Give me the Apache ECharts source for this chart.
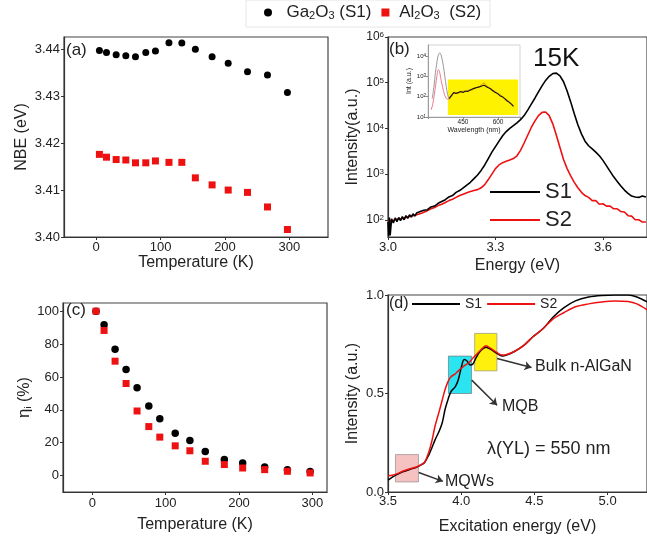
<!DOCTYPE html>
<html>
<head>
<meta charset="utf-8">
<script src="https://cdn.jsdelivr.net/npm/echarts@6/dist/echarts.min.js"></script>
<style>
html, body { margin: 0; padding: 0; background: #fff; }
#chart { width: 647px; height: 546px; }
</style>
</head>
<body>
<div id="chart"></div>
<script>
// (a) NBE peak energy vs temperature, (c) internal efficiency vs temperature
var temps = [5, 16, 31, 46, 61, 77, 92, 113, 133, 154, 180, 205, 235, 266, 297];
var nbeS1 = [3.4397, 3.4393, 3.4388, 3.4386, 3.4384, 3.4393, 3.4396, 3.4414, 3.4413, 3.4400, 3.4384, 3.4370, 3.4352, 3.4345, 3.4308];
var nbeS2 = [3.4176, 3.4170, 3.4165, 3.4164, 3.4158, 3.4158, 3.4162, 3.4159, 3.4159, 3.4126, 3.4111, 3.4100, 3.4095, 3.4064, 3.4016];
var etaS1 = [100, 91.7, 76.8, 64.5, 53.4, 42.3, 34.5, 25.8, 21.4, 14.7, 9.7, 7.7, 5.2, 3.6, 2.4];
var etaS2 = [100, 88.3, 69.6, 56, 39.3, 29.8, 23.4, 18.1, 15.1, 8.7, 6.7, 4.6, 3.6, 2.6, 1.6];

// (b) PL spectra at 15K, read as decades on the log axis
var bEnergy = [3.000, 3.002, 3.004, 3.006, 3.010, 3.015, 3.020, 3.025, 3.030, 3.035, 3.040, 3.045, 3.050, 3.055, 3.060, 3.065, 3.070, 3.075, 3.080, 3.085, 3.090, 3.095, 3.100,
  3.11, 3.12, 3.13, 3.14, 3.15, 3.16, 3.17, 3.18, 3.19, 3.20, 3.21, 3.22, 3.23, 3.24, 3.25, 3.26, 3.27, 3.28, 3.29, 3.30, 3.31, 3.32, 3.33, 3.34, 3.35, 3.36, 3.37, 3.38, 3.39,
  3.40, 3.41, 3.42, 3.43, 3.44, 3.45, 3.46, 3.47, 3.48, 3.49, 3.50, 3.51, 3.52, 3.53, 3.54, 3.55, 3.56, 3.57, 3.58, 3.59, 3.60, 3.61, 3.62, 3.63, 3.64, 3.65, 3.66, 3.67,
  3.68, 3.69, 3.70, 3.71, 3.72];
var bS1Decade = [1.95, 1.65, 2.05, 1.66, 2.02, 1.93, 2.04, 1.96, 2.05, 1.98, 2.07, 2.00, 2.09, 2.03, 2.11, 2.06, 2.13, 2.08, 2.15, 2.11, 2.18, 2.14, 2.21,
  2.22, 2.28, 2.30, 2.36, 2.40, 2.44, 2.50, 2.53, 2.60, 2.64, 2.70, 2.76, 2.82, 2.90, 2.98, 3.08, 3.20, 3.34, 3.48, 3.60, 3.72, 3.84, 3.93, 4.00, 4.06, 4.12, 4.19, 4.28, 4.40,
  4.53, 4.66, 4.80, 4.93, 5.05, 5.14, 5.20, 5.21, 5.15, 5.02, 4.82, 4.58, 4.32, 4.08, 3.88, 3.72, 3.62, 3.55, 3.48, 3.40, 3.30, 3.18, 3.06, 2.94, 2.84, 2.74, 2.65, 2.58,
  2.52, 2.50, 2.49, 2.52, 2.50];
var bS2Decade = [1.97, 1.97, 1.98, 1.98, 1.99, 1.99, 2.00, 2.01, 2.02, 2.02, 2.03, 2.04, 2.05, 2.06, 2.07, 2.08, 2.09, 2.10, 2.11, 2.12, 2.14, 2.15, 2.17,
  2.20, 2.24, 2.27, 2.31, 2.34, 2.38, 2.42, 2.45, 2.49, 2.53, 2.56, 2.59, 2.62, 2.64, 2.66, 2.70, 2.77, 2.88, 3.00, 3.12, 3.20, 3.25, 3.28, 3.31, 3.34, 3.40, 3.52, 3.68, 3.85,
  4.02, 4.16, 4.28, 4.35, 4.36, 4.28, 4.10, 3.85, 3.58, 3.32, 3.12, 2.96, 2.82, 2.70, 2.60, 2.53, 2.49, 2.42, 2.42, 2.34, 2.35, 2.30, 2.30, 2.24, 2.24, 2.18, 2.17, 2.09,
  2.08, 2.00, 2.00, 1.95, 1.95];

// (b) inset: wavelength spectra
var insUvWlS1 = [318, 325, 332, 337, 342, 347, 351, 356, 361, 366, 372, 378, 384, 390];
var insUvS1 = [1.9, 2.45, 3.2, 3.6, 3.95, 4.12, 4.15, 4.05, 3.8, 3.5, 3.0, 2.5, 2.1, 1.9];
var insUvWlS2 = [313, 320, 327, 333, 338, 344, 349, 354, 360, 366, 372, 378, 384, 390];
var insUvS2 = [1.35, 1.6, 2.1, 2.6, 3.0, 3.33, 3.25, 2.95, 2.6, 2.3, 2.05, 1.92, 1.88, 1.9];
var insYlWl = [390, 400, 410, 420, 430, 440, 450, 460, 470, 480, 490, 500, 510, 520, 530, 540, 548, 556, 566, 576, 587, 598, 608, 618, 628, 638, 648, 658, 666];
var insYlS1 = [1.9, 2.05, 2.2, 2.15, 2.2, 2.25, 2.2, 2.28, 2.25, 2.32, 2.38, 2.42, 2.45, 2.48, 2.52, 2.56, 2.52, 2.45, 2.4, 2.3, 2.22, 2.15, 2.05, 2.0, 1.9, 1.8, 1.72, 1.62, 1.52];
var insYlS2 = [1.85, 2.0, 2.18, 2.2, 2.16, 2.22, 2.28, 2.24, 2.3, 2.35, 2.33, 2.4, 2.46, 2.5, 2.6, 2.68, 2.62, 2.5, 2.42, 2.35, 2.25, 2.18, 2.1, 2.02, 1.92, 1.85, 1.75, 1.65, 1.55];

// (d) PLE spectra
var dEnergy = [3.50, 3.53, 3.56, 3.60, 3.65, 3.69, 3.72, 3.75, 3.78, 3.80, 3.82, 3.85, 3.87, 3.89, 3.91, 3.93, 3.96, 3.98, 4.00, 4.02, 4.04, 4.06, 4.08, 4.10,
  4.13, 4.17, 4.20, 4.24, 4.28, 4.31, 4.36, 4.43, 4.49, 4.56, 4.63, 4.70, 4.78, 4.87, 4.96, 5.05, 5.14, 5.20, 5.27];
var dS1 = [0.060, 0.075, 0.088, 0.102, 0.115, 0.124, 0.135, 0.150, 0.190, 0.225, 0.262, 0.310, 0.350, 0.420, 0.470, 0.510, 0.535, 0.570, 0.630, 0.672, 0.665, 0.645, 0.650, 0.680,
  0.715, 0.735, 0.725, 0.705, 0.690, 0.695, 0.712, 0.746, 0.788, 0.830, 0.890, 0.935, 0.970, 0.990, 0.998, 1.000, 1.000, 0.990, 0.965];
var dS2 = [0.082, 0.085, 0.092, 0.105, 0.118, 0.126, 0.136, 0.152, 0.205, 0.260, 0.330, 0.410, 0.466, 0.520, 0.560, 0.585, 0.600, 0.615, 0.628, 0.640, 0.650, 0.662, 0.680, 0.695,
  0.718, 0.742, 0.730, 0.710, 0.695, 0.698, 0.712, 0.746, 0.788, 0.830, 0.880, 0.910, 0.940, 0.955, 0.965, 0.970, 0.967, 0.955, 0.925];

var font = 'Liberation Sans, Arial, Helvetica, sans-serif';
var ink = '#222';
var red = '#ee1111';

function zip(xs, ys) {
  return xs.map(function (x, i) { return [x, ys[i]]; });
}
function zipDecade(xs, ds) {
  return xs.map(function (x, i) { return [x, Math.pow(10, ds[i])]; });
}
function decadeLabel(v) {
  return '10{s|' + Math.round(Math.log10(v)) + '}';
}

function axis(o) {
  return {
    type: o.type || 'value',
    gridIndex: o.grid,
    min: o.min,
    max: o.max,
    interval: o.interval,
    splitNumber: o.splitNumber,
    logBase: 10,
    name: o.name,
    nameLocation: 'middle',
    nameGap: o.nameGap,
    nameTextStyle: { color: ink, fontSize: o.nameSize || 16, fontFamily: font, rich: o.nameRich },
    axisLine: { show: true, onZero: false, lineStyle: { color: o.lineColor || '#333', width: o.lineWidth || 1.2 } },
    axisTick: { show: true, inside: false, length: o.tickLen || 3, lineStyle: { color: o.lineColor || '#333' } },
    splitLine: { show: false },
    axisLabel: {
      color: ink, fontSize: o.labelSize || 13, fontFamily: font, margin: o.margin || 4,
      formatter: o.formatter, showMinLabel: o.showMin, showMaxLabel: o.showMax,
      rich: o.rich
    }
  };
}

var chart = echarts.init(document.getElementById('chart'));

var boxStyle = { show: true, borderColor: '#444', borderWidth: 1.2 };
var option = {
  animation: false,
  backgroundColor: '#fff',
  grid: [
    Object.assign({ left: 64, top: 37, width: 264, height: 200 }, boxStyle),
    Object.assign({ left: 388, top: 37, width: 264, height: 200 }, boxStyle),
    Object.assign({ left: 63, top: 303, width: 264, height: 189 }, boxStyle),
    Object.assign({ left: 388, top: 295, width: 264, height: 197 }, boxStyle),
    { left: 428, top: 45, width: 92, height: 72, show: true, borderColor: '#c8c8c8', borderWidth: 0.8, backgroundColor: '#fff' }
  ],
  xAxis: [
    axis({ grid: 0, min: -50, max: 360, splitNumber: 4, name: 'Temperature (K)', nameGap: 18, showMin: false, showMax: false }),
    axis({ grid: 1, min: 3.0, max: 3.723, interval: 0.3, name: 'Energy (eV)', nameGap: 21, showMax: false,
      formatter: function (v) { return v.toFixed(1); } }),
    axis({ grid: 2, min: -40, max: 320, splitNumber: 4, name: 'Temperature (K)', nameGap: 25, margin: 5, showMin: false, showMax: false }),
    axis({ grid: 3, min: 3.5, max: 5.269, interval: 0.5, name: 'Excitation energy (eV)', nameGap: 27, margin: 3, showMax: false,
      formatter: function (v) { return v.toFixed(1); } }),
    axis({ grid: 4, min: 300, max: 694, interval: 150, name: 'Wavelength (nm)', nameGap: 10, nameSize: 7, labelSize: 6.5, margin: 2,
      tickLen: 2, lineColor: '#888', lineWidth: 0.8,
      formatter: function (v) { return (v === 450 || v === 600) ? String(v) : ''; } })
  ],
  yAxis: [
    axis({ grid: 0, min: 3.40, max: 3.4426, splitNumber: 4, name: 'NBE (eV)', nameGap: 34, showMax: false,
      formatter: function (v) { return v.toFixed(2); } }),
    axis({ type: 'log', grid: 1, min: 42, max: 1e6, name: 'Intensity(a.u.)', nameGap: 27, labelSize: 12, showMin: false,
      formatter: decadeLabel, rich: { s: { fontSize: 8, verticalAlign: 'top', fontFamily: font, color: ink } } }),
    axis({ grid: 2, min: -10, max: 105, splitNumber: 5, name: '{e|η}{i|i} (%)', nameGap: 30, showMin: false, showMax: false,
      nameRich: { e: { fontSize: 17, fontFamily: font, color: ink }, i: { fontSize: 9, fontFamily: font, color: ink, verticalAlign: 'bottom' } } }),
    axis({ grid: 3, min: 0, max: 1, interval: 0.5, name: 'Intensity (a.u.)', nameGap: 27,
      formatter: function (v) { return v.toFixed(1); } }),
    axis({ type: 'log', grid: 4, min: 10, max: 34700, name: 'Int (a.u.)', nameGap: 12, nameSize: 7, labelSize: 6, margin: 2,
      tickLen: 2, lineColor: '#888', lineWidth: 0.8, showMax: false,
      formatter: decadeLabel, rich: { s: { fontSize: 4.5, verticalAlign: 'top', fontFamily: font, color: ink } } })
  ],
  legend: [
    {
      data: [{ name: 'Ga2O3(S1)', icon: 'circle' }, { name: 'Al2O3 (S2)', icon: 'rect' }],
      left: 264, top: 4, padding: 0, itemWidth: 8, itemHeight: 8, itemGap: 10,
      selectedMode: false,
      textStyle: { fontSize: 17, fontFamily: font, color: ink,
        rich: { sub: { fontSize: 11, fontFamily: font, color: ink, verticalAlign: 'bottom' } } },
      formatter: function (n) {
        return n === 'Ga2O3(S1)' ? '  Ga{sub|2}O{sub|3} (S1)' : ' Al{sub|2}O{sub|3}  (S2)';
      }
    },
    {
      data: [{ name: 'S1', icon: 'rect' }, { name: 'S2', icon: 'rect' }],
      orient: 'vertical', left: 490, top: 181, padding: 0, itemWidth: 50, itemHeight: 2, itemGap: 6,
      selectedMode: false, textStyle: { fontSize: 22, fontFamily: font, color: ink }
    },
    {
      data: [{ name: 'S1', icon: 'rect' }, { name: 'S2', icon: 'rect' }],
      left: 412, top: 297, padding: 0, itemWidth: 48, itemHeight: 2, itemGap: 5,
      selectedMode: false, textStyle: { fontSize: 14, fontFamily: font, color: ink }
    }
  ],
  series: [
    { type: 'scatter', name: 'Ga2O3(S1)', xAxisIndex: 0, yAxisIndex: 0, symbol: 'circle', symbolSize: 7,
      itemStyle: { color: '#000', opacity: 1 }, data: zip(temps, nbeS1) },
    { type: 'scatter', name: 'Al2O3 (S2)', xAxisIndex: 0, yAxisIndex: 0, symbol: 'rect', symbolSize: 7,
      itemStyle: { color: red, opacity: 1 }, data: zip(temps, nbeS2) },
    { type: 'scatter', name: 'Ga2O3(S1)', xAxisIndex: 2, yAxisIndex: 2, symbol: 'circle', symbolSize: 7.5,
      itemStyle: { color: '#000', opacity: 1 }, data: zip(temps, etaS1) },
    { type: 'scatter', name: 'Al2O3 (S2)', xAxisIndex: 2, yAxisIndex: 2, symbol: 'rect', symbolSize: 7,
      itemStyle: { color: red, opacity: 1 }, data: zip(temps, etaS2) },

    { type: 'line', name: 'S1', xAxisIndex: 1, yAxisIndex: 1, symbol: 'none', z: 3,
      lineStyle: { color: '#000', width: 1.6 }, itemStyle: { color: '#000' }, data: zipDecade(bEnergy, bS1Decade) },
    { type: 'line', name: 'S2', xAxisIndex: 1, yAxisIndex: 1, symbol: 'none', z: 2,
      lineStyle: { color: red, width: 1.6 }, itemStyle: { color: red }, data: zipDecade(bEnergy, bS2Decade) },

    { type: 'line', name: 'S1', xAxisIndex: 3, yAxisIndex: 3, symbol: 'none', smooth: 0.3,
      lineStyle: { color: '#000', width: 1.5 }, itemStyle: { color: '#000' }, data: zip(dEnergy, dS1),
      markArea: {
        silent: true,
        data: [
          [{ xAxis: 3.551, yAxis: 0.051, itemStyle: { color: 'rgba(240,160,160,0.65)', borderColor: 'rgba(130,130,130,0.6)', borderWidth: 1 } }, { xAxis: 3.708, yAxis: 0.19 }],
          [{ xAxis: 3.913, yAxis: 0.50, itemStyle: { color: 'rgba(20,225,240,0.9)', borderColor: 'rgba(100,100,100,0.6)', borderWidth: 1 } }, { xAxis: 4.07, yAxis: 0.69 }],
          [{ xAxis: 4.092, yAxis: 0.615, itemStyle: { color: 'rgba(255,240,0,0.95)', borderColor: 'rgba(130,130,130,0.6)', borderWidth: 1 } }, { xAxis: 4.244, yAxis: 0.805 }]
        ]
      },
      markLine: {
        silent: true, symbol: ['none', 'arrow'], symbolSize: 7, label: { show: false },
        lineStyle: { color: '#333', width: 1.5, type: 'solid' },
        data: [
          [{ coord: [4.245, 0.678] }, { coord: [4.48, 0.632] }],
          [{ coord: [4.072, 0.568] }, { coord: [4.245, 0.44] }],
          [{ coord: [3.71, 0.099] }, { coord: [3.875, 0.054] }]
        ]
      }
    },
    { type: 'line', name: 'S2', xAxisIndex: 3, yAxisIndex: 3, symbol: 'none', smooth: 0.3,
      lineStyle: { color: red, width: 1.5 }, itemStyle: { color: red }, data: zip(dEnergy, dS2) },

    { type: 'line', name: 'inset S2 YL', xAxisIndex: 4, yAxisIndex: 4, symbol: 'none',
      lineStyle: { color: '#e8901a', width: 1 }, data: zipDecade(insYlWl, insYlS2),
      markArea: { silent: true, data: [[{ xAxis: 385, yAxis: 12.6, itemStyle: { color: '#fff200' } }, { xAxis: 686, yAxis: 690 }]] } },
    { type: 'line', name: 'inset S1 YL', xAxisIndex: 4, yAxisIndex: 4, symbol: 'none',
      lineStyle: { color: '#111', width: 1.1 }, data: zipDecade(insYlWl, insYlS1) },
    { type: 'line', name: 'inset S1 UV', xAxisIndex: 4, yAxisIndex: 4, symbol: 'none', smooth: 0.3,
      lineStyle: { color: '#999', width: 1 }, data: zipDecade(insUvWlS1, insUvS1) },
    { type: 'line', name: 'inset S2 UV', xAxisIndex: 4, yAxisIndex: 4, symbol: 'none', smooth: 0.3,
      lineStyle: { color: '#f07a8a', width: 1 }, data: zipDecade(insUvWlS2, insUvS2) }
  ],
  graphic: [
    { type: 'rect', shape: { x: 246, y: 0, width: 244, height: 27 }, style: { fill: 'none', stroke: '#e6e6e6', lineWidth: 1 } },
    { type: 'text', left: 66, top: 42, style: { text: '(a)', fontSize: 17, fontFamily: font, fill: ink } },
    { type: 'text', left: 389, top: 41, style: { text: '(b)', fontSize: 17, fontFamily: font, fill: ink } },
    { type: 'text', left: 66, top: 302, style: { text: '(c)', fontSize: 17, fontFamily: font, fill: ink } },
    { type: 'text', left: 389, top: 296, style: { text: '(d)', fontSize: 16, fontFamily: font, fill: ink } },
    { type: 'text', left: 533, top: 46, style: { text: '15K', fontSize: 26, fontFamily: font, fill: '#111' } },
    { type: 'text', left: 455, top: 100, style: { text: 'YL Peaks', fontSize: 7, fontFamily: font, fill: '#333' } },
    { type: 'text', left: 535, top: 359, style: { text: 'Bulk n-AlGaN', fontSize: 16, fontFamily: font, fill: ink } },
    { type: 'text', left: 502, top: 399, style: { text: 'MQB', fontSize: 16, fontFamily: font, fill: ink } },
    { type: 'text', left: 445, top: 474, style: { text: 'MQWs', fontSize: 16, fontFamily: font, fill: ink } },
    { type: 'text', left: 487, top: 440, style: { text: 'λ(YL) = 550 nm', fontSize: 18, fontFamily: font, fill: ink } }
  ]
};

chart.setOption(option);
window.addEventListener('resize', function () { chart.resize(); });
</script>
</body>
</html>
